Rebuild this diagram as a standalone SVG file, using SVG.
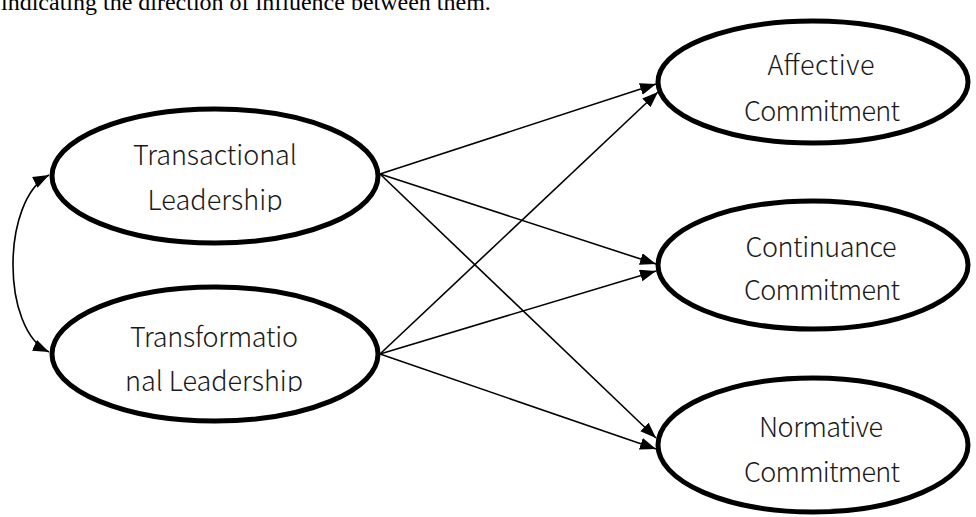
<svg xmlns="http://www.w3.org/2000/svg" width="976" height="517" viewBox="0 0 976 517">
<style>
.node ellipse{fill:#fff;stroke:#000;stroke-width:5}
.lbl{font-family:"Noto Sans CJK JP","Noto Sans",sans-serif;font-size:27px;font-weight:300;fill:#1a1a1a;text-anchor:middle}
.conn line,.conn path{stroke:#000;stroke-width:1.6;fill:none}
</style>
<defs>
<marker id="ah" markerUnits="userSpaceOnUse" markerWidth="18" markerHeight="13" refX="16" refY="6" orient="auto-start-reverse" viewBox="0 0 18 13">
<path d="M0,0 L16,6 L0,12 z" fill="#000"/>
</marker>
<clipPath id="c1"><rect x="0" y="0" width="400" height="212"/></clipPath>
<clipPath id="c2"><rect x="0" y="0" width="400" height="392"/></clipPath>
</defs>
<rect width="976" height="517" fill="#fff"/>
<text x="1" y="10" font-family="Liberation Serif, serif" font-size="24" fill="#000">indicating the direction of influence between them.</text>
<g class="conn">
<line x1="380" y1="174" x2="656" y2="84" marker-end="url(#ah)"/>
<line x1="380" y1="174" x2="656" y2="264" marker-end="url(#ah)"/>
<line x1="380" y1="174" x2="656" y2="438" marker-end="url(#ah)"/>
<line x1="380" y1="354" x2="658" y2="92" marker-end="url(#ah)"/>
<line x1="380" y1="354" x2="656" y2="271" marker-end="url(#ah)"/>
<line x1="380" y1="354" x2="656" y2="449" marker-end="url(#ah)"/>
<path d="M49,175 C1,200 1,330 49,352" marker-start="url(#ah)" marker-end="url(#ah)"/>
</g>
<g id="transactional" class="node">
<ellipse cx="215" cy="176" rx="163" ry="67"/>
<g clip-path="url(#c1)">
<text class="lbl" x="215" y="165" textLength="164" lengthAdjust="spacing">Transactional</text>
<text class="lbl" x="215" y="210" textLength="135" lengthAdjust="spacing">Leadership</text>
</g>
</g>
<g id="transformational" class="node">
<ellipse cx="215" cy="354" rx="163" ry="67"/>
<g clip-path="url(#c2)">
<text class="lbl" x="214" y="347" textLength="168" lengthAdjust="spacing">Transformatio</text>
<text class="lbl" x="214" y="391" textLength="178" lengthAdjust="spacing">nal Leadership</text>
</g>
</g>
<g id="affective" class="node">
<ellipse cx="813" cy="82" rx="155" ry="61"/>
<text class="lbl" x="821" y="75" textLength="107" lengthAdjust="spacing">Affective</text>
<text class="lbl" x="822" y="121" textLength="156" lengthAdjust="spacing">Commitment</text>
</g>
<g id="continuance" class="node">
<ellipse cx="813" cy="265" rx="155" ry="64"/>
<text class="lbl" x="821" y="257" textLength="151" lengthAdjust="spacing">Continuance</text>
<text class="lbl" x="822" y="300" textLength="156" lengthAdjust="spacing">Commitment</text>
</g>
<g id="normative" class="node">
<ellipse cx="813" cy="445" rx="155" ry="67"/>
<text class="lbl" x="821" y="437" textLength="124" lengthAdjust="spacing">Normative</text>
<text class="lbl" x="822" y="482" textLength="156" lengthAdjust="spacing">Commitment</text>
</g>
</svg>
